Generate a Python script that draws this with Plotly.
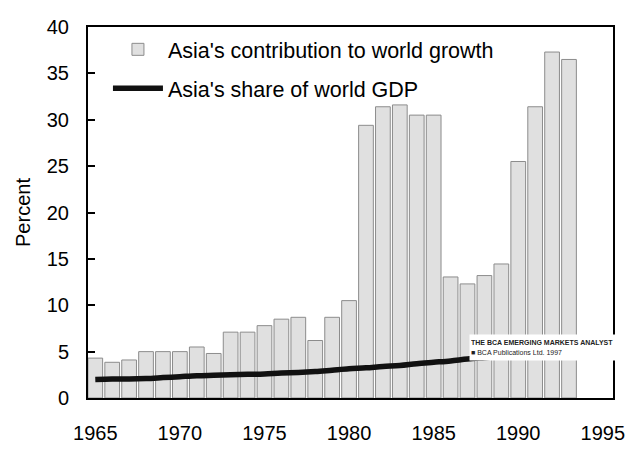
import plotly.graph_objects as go

years = list(range(1965, 1994))
asia_contribution = [4.3, 3.85, 4.1, 5.0, 5.0, 5.0, 5.5, 4.8, 7.1, 7.1,
                     7.8, 8.5, 8.7, 6.2, 8.7, 10.5, 29.4, 31.4, 31.6, 30.5,
                     30.5, 13.05, 12.3, 13.2, 14.45, 25.5, 31.4, 37.3, 36.5]

share_years = list(range(1965, 1990))
asia_share = [2.0, 2.05, 2.05, 2.1, 2.2, 2.3, 2.4, 2.45, 2.5, 2.55,
              2.6, 2.7, 2.75, 2.85, 3.0, 3.15, 3.25, 3.4, 3.5, 3.7,
              3.85, 4.0, 4.2, 4.35, 4.5]

x_ticks = [1965, 1970, 1975, 1980, 1985, 1990, 1995]
y_ticks = [0, 5, 10, 15, 20, 25, 30, 35, 40]

font_family = "Liberation Sans, Arial, sans-serif"

fig = go.Figure()
fig.add_trace(go.Bar(
    x=years, y=asia_contribution, name="Asia's contribution to world growth",
    width=0.87, legendgroup="a",
    marker=dict(color="#e0e0e0", line=dict(color="#8c8c8c", width=1)),
))
fig.add_trace(go.Scatter(
    x=share_years, y=asia_share, name="Asia's share of world GDP",
    mode="lines", legendgroup="b",
    line=dict(color="#111111", width=5.5, shape="spline"),
))

# page body has an 8px margin, so the figure is a bit smaller than the window
fig.update_layout(
    width=625, height=444,
    margin=dict(l=80, r=8, t=17, b=47),
    plot_bgcolor="white", paper_bgcolor="white",
    font=dict(family=font_family, size=20, color="black"),
    showlegend=True,
    legend=dict(x=0.038, y=0.995, xanchor="left", yanchor="top",
                bgcolor="rgba(0,0,0,0)", font=dict(size=21.5),
                traceorder="grouped", tracegroupgap=8,
                itemwidth=50),
    annotations=[dict(
        x=0.725, y=0.173, xref="paper", yref="paper",
        xanchor="left", yanchor="top", showarrow=False, align="left",
        text="<b>THE BCA EMERGING MARKETS ANALYST</b><br>■ BCA Publications Ltd. 1997",
        font=dict(size=7, color="#222222"), bgcolor="white",
        width=152, height=23,
    )],
)

fig.update_xaxes(
    range=[1964.57, 1995.6], tickvals=x_ticks,
    showline=True, linecolor="black", linewidth=2, mirror=True,
    ticks="", showgrid=False, zeroline=False, ticklabelstandoff=16,
    ticklabeloverflow="allow",
    tickfont=dict(size=20),
)
fig.update_yaxes(
    range=[0, 40], tickvals=y_ticks,
    showline=True, linecolor="black", linewidth=2, mirror=True,
    ticks="inside", ticklen=7, tickcolor="black", tickwidth=1.5,
    showgrid=False, zeroline=False, ticklabelstandoff=13,
    title=dict(text="Percent", font=dict(size=20), standoff=11),
    tickfont=dict(size=20),
)

fig.write_html("out.html")
